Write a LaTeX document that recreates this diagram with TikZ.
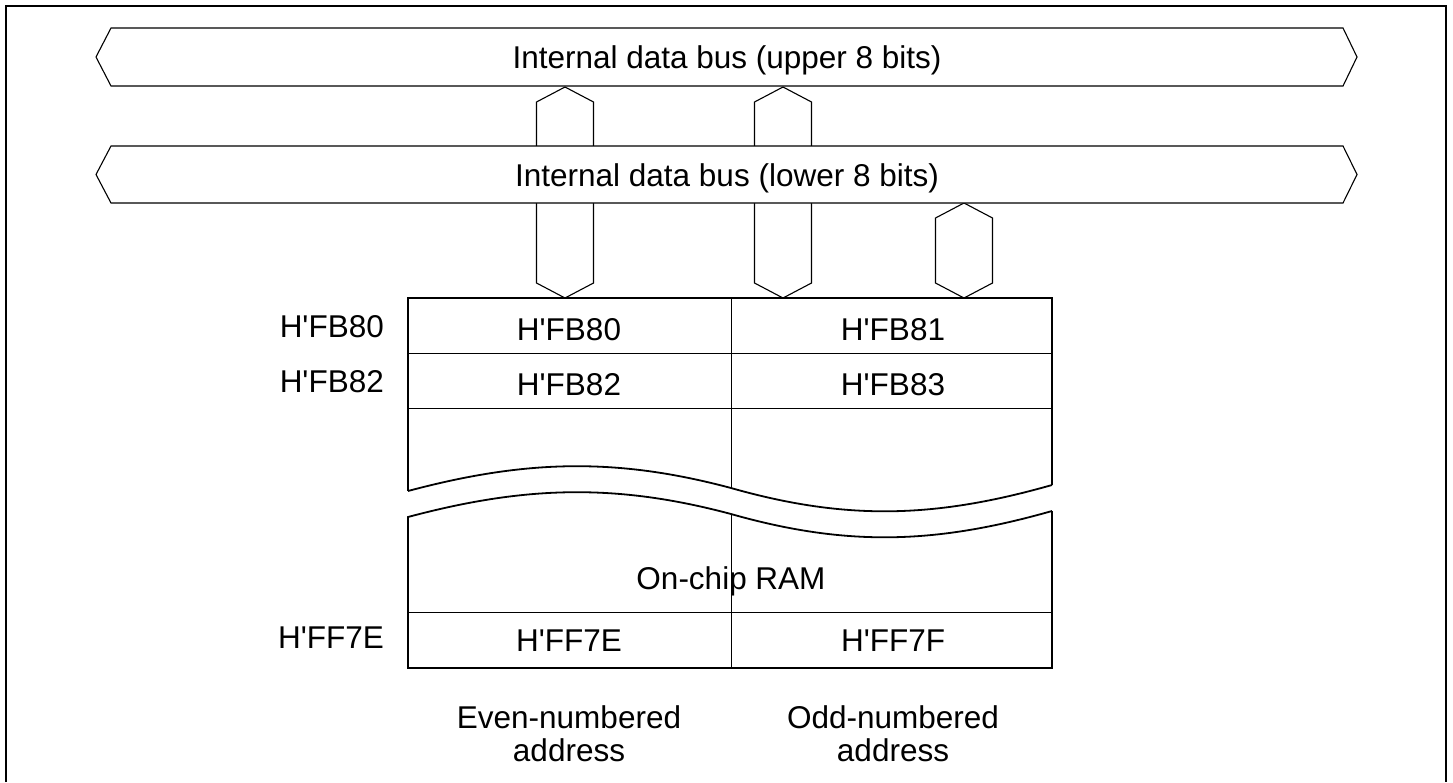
\documentclass[tikz,border=0pt]{standalone}
\usepackage{fontspec}
\setmainfont{Liberation Sans}
\usetikzlibrary{positioning}

\begin{document}
\begin{tikzpicture}[
  x=1pt, y=-1pt,
  txt/.style={font=\fontsize{31.5}{33}\selectfont, inner sep=0pt, align=center},
  frame/.style={line width=1.6pt},
  bus/.style={draw, fill=white, line width=1.1pt},
  ramline/.style={line width=1.8pt},
  cell/.style={line width=0.9pt}
]
  \useasboundingbox (0,0) rectangle (1453,782);
  \draw[frame] (6,782) -- (6,6) -- (1446,6) -- (1446,782);

  % links between buses and RAM (lower bus is drawn over them)
  \foreach \cx/\ty/\by in {565/87/298, 783/87/298, 964/203/298}
    \draw[bus] (\cx-28.5,\ty+15) -- (\cx,\ty) -- (\cx+28.5,\ty+15)
      -- (\cx+28.5,\by-15) -- (\cx,\by) -- (\cx-28.5,\by-15) -- cycle;

  % internal data buses
  \foreach \ty/\by in {28/86, 146/203}
    \draw[bus] (96,{(\ty+\by)/2}) -- (111,\ty) -- (1343,\ty)
      -- (1357,{(\ty+\by)/2}) -- (1343,\by) -- (111,\by) -- cycle;
  \node[txt, anchor=base] (upbus)  at (727,68)  {Internal data bus (upper 8 bits)};
  \node[txt, anchor=base] (lowbus) at (727,186) {Internal data bus (lower 8 bits)};

  % on-chip RAM, broken in the middle
  \draw[ramline] (408,491) -- (408,298) -- (1052,298) -- (1052,485);
  \draw[ramline] (408,491) .. controls (524,460) and (615,457) .. (731,488)
    .. controls (847,521) and (936,518) .. (1052,485);
  \draw[ramline] (1052,511) -- (1052,668) -- (408,668) -- (408,517)
    .. controls (524,486) and (615,483) .. (731,514)
    .. controls (847,547) and (936,544) .. (1052,511);
  \draw[cell] (408,353) -- (1052,353) (408,408) -- (1052,408) (408,612) -- (1052,612);
  \draw[cell] (731,298) -- (731,488) (731,514) -- (731,668);

  \node[txt, anchor=base] (c80) at (569,340) {H\textquotesingle FB80};
  \node[txt, anchor=base] (c81) at (893,340) {H\textquotesingle FB81};
  \node[txt, anchor=base] (c82) at (569,395) {H\textquotesingle FB82};
  \node[txt, anchor=base] (c83) at (893,395) {H\textquotesingle FB83};
  \node[txt, anchor=base] (ram) at (731,589) {On-chip RAM};
  \node[txt, anchor=base] (c7e) at (569,651) {H\textquotesingle FF7E};
  \node[txt, anchor=base] (c7f) at (893,651) {H\textquotesingle FF7F};

  \node[txt, anchor=base east] (a80) at (384,337) {H\textquotesingle FB80};
  \node[txt, anchor=base east] (a82) at (384,392) {H\textquotesingle FB82};
  \node[txt, anchor=base east] (a7e) at (384,648) {H\textquotesingle FF7E};

  \node[txt, anchor=north] (even) at (569,705) {Even-numbered\\address};
  \node[txt, anchor=north] (odd)  at (893,705) {Odd-numbered\\address};
\end{tikzpicture}
\end{document}
